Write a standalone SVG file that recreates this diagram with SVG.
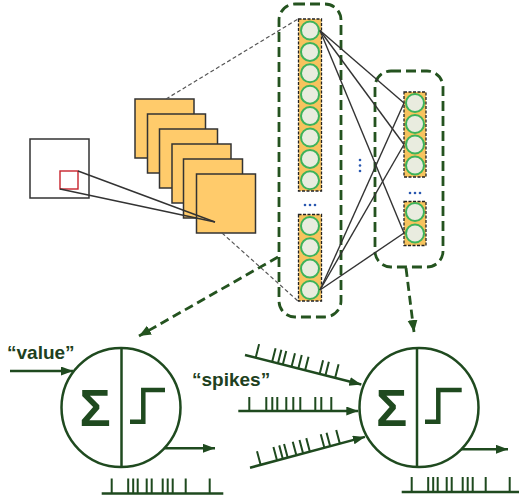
<svg xmlns="http://www.w3.org/2000/svg" xmlns:xlink="http://www.w3.org/1999/xlink" width="520" height="502" viewBox="0 0 520 502">
<style>
.map{fill:#FFCB6B;stroke:#333;stroke-width:1.5}
.thin{stroke:#333;stroke-width:1.4;fill:none}
.gdash{stroke:#555;stroke-width:1.2;fill:none;stroke-dasharray:4 2.5}
.grp{fill:none;stroke:#24531f;stroke-width:2.8;stroke-dasharray:10 5}
.garrow{fill:none;stroke:#24531f;stroke-width:2.8;stroke-dasharray:9 5}
.col{fill:#F7C35E;stroke:#222;stroke-width:1.3;stroke-dasharray:3 1.5}
.cell{fill:#E9ECDF;stroke:#3DB35A;stroke-width:2}
.dot{fill:#2a58b0}
.conn{stroke:#333;stroke-width:1.4;fill:none}
.ink{stroke:#1f4a1f;fill:none}
.nrn{stroke:#1f4a1f;stroke-width:2.5;fill:#fff}
.step{stroke:#1f4a1f;stroke-width:4.5;fill:none;stroke-linejoin:miter}
.base{stroke:#1f4a1f;stroke-width:2.5;fill:none}
.tick{stroke:#1f4a1f;stroke-width:2;fill:none}
.lbl{font-family:"Liberation Sans",Arial,sans-serif;font-weight:bold;font-size:19px;fill:#203f20}
.sig{font-family:"Liberation Sans",Arial,sans-serif;font-weight:bold;font-size:52px;fill:#1f4a1f;text-anchor:middle}
</style>
<defs>
<marker id="ah" markerUnits="userSpaceOnUse" markerWidth="13" markerHeight="10" refX="12" refY="4.5" orient="auto"><path d="M0,0 L12,4.5 L0,9 z" fill="#1f4a1f"/></marker>
<marker id="ahg" markerUnits="userSpaceOnUse" markerWidth="14" markerHeight="12" refX="12" refY="5" orient="auto"><path d="M0,0 L12,5 L0,10 z" fill="#24531f"/></marker>
<path id="outTicks" class="tick" d="M10,0v-15M26.5,0v-15M31.5,0v-15M36,0v-15M45,0v-15M50,0v-15M61,0v-15M66,0v-15M71,0v-15M84,0v-15M108,0v-15"/>
<path id="inTicks" class="tick" d="M11,0v-14M28,0v-14M34,0v-14M39,0v-14M48,0v-14M55,0v-14M62,0v-14M77,0v-14M83,0v-14M93,0v-14"/>
</defs>

<g id="input-image">
<rect x="30" y="139" width="59" height="59" fill="#fff" stroke="#333" stroke-width="1.5"/>
<rect x="60" y="171" width="18" height="18" fill="none" stroke="#c8232c" stroke-width="1.4"/>
</g>

<g id="feature-maps">
<rect class="map" x="135" y="99" width="59" height="59"/>
<rect class="map" x="147.5" y="114" width="58" height="59"/>
<rect class="map" x="159.5" y="129" width="58" height="59"/>
<rect class="map" x="172" y="144" width="59" height="59"/>
<rect class="map" x="183.5" y="159" width="59" height="59"/>
<rect class="map" x="196.5" y="174" width="59" height="59"/>
</g>

<g id="connectors">
<line class="thin" x1="78" y1="171" x2="215" y2="222"/>
<line class="thin" x1="60" y1="189" x2="215" y2="222"/>
<line class="gdash" x1="166" y1="99" x2="298" y2="19"/>
<line class="gdash" x1="222" y1="233" x2="298" y2="301"/>
</g>

<g id="layer1">
<rect class="grp" x="279" y="4" width="62" height="313" rx="16"/>
<rect class="col" x="298.5" y="19" width="23" height="172"/>
<circle class="cell" cx="310" cy="30.5" r="9"/>
<circle class="cell" cx="310" cy="51.9" r="9"/>
<circle class="cell" cx="310" cy="73.3" r="9"/>
<circle class="cell" cx="310" cy="94.7" r="9"/>
<circle class="cell" cx="310" cy="116.1" r="9"/>
<circle class="cell" cx="310" cy="137.5" r="9"/>
<circle class="cell" cx="310" cy="158.9" r="9"/>
<circle class="cell" cx="310" cy="180.3" r="9"/>
<circle class="dot" cx="305" cy="205" r="1.3"/>
<circle class="dot" cx="310" cy="205" r="1.3"/>
<circle class="dot" cx="315" cy="205" r="1.3"/>
<rect class="col" x="298.5" y="214.5" width="23" height="86.5"/>
<circle class="cell" cx="310" cy="226" r="9"/>
<circle class="cell" cx="310" cy="247.3" r="9"/>
<circle class="cell" cx="310" cy="268.6" r="9"/>
<circle class="cell" cx="310" cy="290" r="9"/>
</g>

<g id="layer2">
<rect class="grp" x="375" y="71" width="68" height="196" rx="16"/>
<rect class="col" x="404" y="92" width="22" height="85"/>
<circle class="cell" cx="415" cy="103" r="9"/>
<circle class="cell" cx="415" cy="124" r="9"/>
<circle class="cell" cx="415" cy="144.5" r="9"/>
<circle class="cell" cx="415" cy="165.5" r="9"/>
<circle class="dot" cx="410" cy="193" r="1.3"/>
<circle class="dot" cx="415" cy="193" r="1.3"/>
<circle class="dot" cx="420" cy="193" r="1.3"/>
<rect class="col" x="404" y="201.5" width="22" height="44"/>
<circle class="cell" cx="415" cy="212" r="9"/>
<circle class="cell" cx="415" cy="233.5" r="9"/>
</g>

<g id="vdots">
<circle class="dot" cx="360" cy="160" r="1.3"/>
<circle class="dot" cx="360" cy="165.5" r="1.3"/>
<circle class="dot" cx="360" cy="171" r="1.3"/>
</g>

<g id="full-connections">
<line class="conn" x1="320" y1="30.5" x2="404" y2="103"/>
<line class="conn" x1="320" y1="30.5" x2="404" y2="144.5"/>
<line class="conn" x1="320" y1="30.5" x2="404" y2="233"/>
<line class="conn" x1="320" y1="290" x2="404" y2="103"/>
<line class="conn" x1="320" y1="290" x2="404" y2="144.5"/>
<line class="conn" x1="320" y1="290" x2="404" y2="233"/>
</g>

<g id="zoom-arrows">
<line class="garrow" x1="278" y1="257" x2="139" y2="336" marker-end="url(#ahg)"/>
<line class="garrow" x1="406" y1="268" x2="414" y2="332" marker-end="url(#ahg)"/>
</g>

<g id="neuron1">
<line class="base" x1="10" y1="371" x2="73" y2="371" marker-end="url(#ah)"/>
<text class="lbl" x="7" y="359">“value”</text>
<circle class="nrn" cx="121" cy="407.5" r="59.5"/>
<line class="ink" stroke-width="2.5" x1="121.5" y1="348" x2="121.5" y2="467"/>
<text class="sig" x="95" y="426">Σ</text>
<path class="step" d="M130,421.7 H143.3 V390 H165"/>
<line class="base" x1="164.5" y1="448.3" x2="215" y2="448.3" marker-end="url(#ah)"/>
<line class="base" x1="101.7" y1="493.5" x2="223.3" y2="493.5"/>
<use xlink:href="#outTicks" href="#outTicks" transform="translate(101.7,493.5)"/>
</g>

<g id="spike-inputs">
<text class="lbl" x="192" y="386">“spikes”</text>
<g transform="translate(245,355) rotate(14.2)">
<line class="base" x1="0" y1="0" x2="120" y2="0" marker-end="url(#ah)"/>
<use xlink:href="#inTicks" href="#inTicks"/>
</g>
<g transform="translate(238.3,411)">
<line class="base" x1="0" y1="0" x2="120" y2="0" marker-end="url(#ah)"/>
<use xlink:href="#inTicks" href="#inTicks"/>
</g>
<g transform="translate(250,467.7) rotate(-15)">
<line class="base" x1="0" y1="0" x2="119" y2="0" marker-end="url(#ah)"/>
<use xlink:href="#inTicks" href="#inTicks"/>
</g>
</g>

<g id="neuron2">
<circle class="nrn" cx="419" cy="407.5" r="59.5"/>
<line class="ink" stroke-width="2.5" x1="417" y1="348" x2="417" y2="467"/>
<text class="sig" x="391.7" y="426">Σ</text>
<path class="step" d="M425,421.7 H438.3 V390 H461.7"/>
<line class="base" x1="461.3" y1="449.3" x2="508" y2="449.3" marker-end="url(#ah)"/>
<line class="base" x1="401.7" y1="492" x2="519" y2="492"/>
<use xlink:href="#outTicks" href="#outTicks" transform="translate(401.7,492)"/>
</g>
</svg>
